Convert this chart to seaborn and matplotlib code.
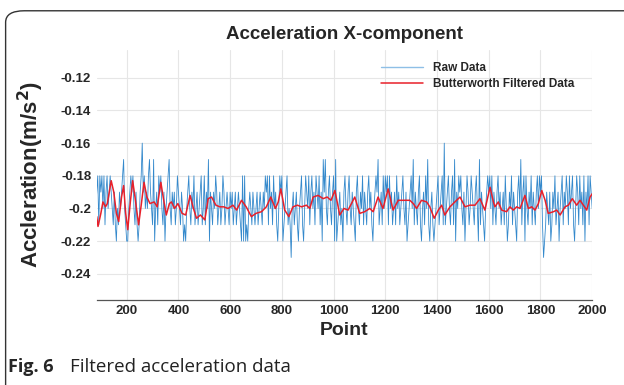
import numpy as np
import pandas as pd
import seaborn as sns
import matplotlib.pyplot as plt
from matplotlib.patches import FancyBboxPatch
from matplotlib.lines import Line2D

# raw samples, one every 4 points from 80 to 2000
# digit code: 6=-0.16 7=-0.17 8=-0.18 9=-0.19 0=-0.20 1=-0.21 2=-0.22 3=-0.23
raw_start, raw_step = 80, 4
raw_codes = [
    "0981898081980989019120190",
    "9870122098980191219869809",
    "0879017209189801920987019",
    "0910890190212098019081091",
    "0981081907290190891091089",
    "1090190910910901282821209",
    "0190109109019089818091809",
    "1208982109810130910912098",
    "1208908198091890819279701",
    "9801982721091029801980190",
    "1298019081901980912098971",
    "0918089818091091809109801",
    "9210980719019812091807120",
    "9121098109816109801981729",
    "0898019208910890198027190",
    "1209898081901980910918021",
    "9081901298071982801908190",
    "1980898132190192190810920",
    "9819089180981208918091829",
    "081890",
]
code_value = {"6": -0.16, "7": -0.17, "8": -0.18, "9": -0.19,
              "0": -0.20, "1": -0.21, "2": -0.22, "3": -0.23}

# filtered curve, read at its turning points
filt_x = [84, 89, 100, 108, 118, 125, 140, 150, 160, 169, 180, 188, 196, 204,
          214, 223, 232, 246, 256, 267, 278, 290, 306, 318, 332, 342, 353, 365,
          373, 385, 398, 414, 428, 445, 458, 470, 485, 502, 515, 528, 545, 560,
          575, 592, 611, 625, 644, 662, 682, 700, 721, 740, 757, 775, 786, 796,
          811, 827, 843, 860, 876, 895, 908, 921, 940, 960, 975, 990, 1005, 1024,
          1040, 1056, 1082, 1101, 1120, 1140, 1153, 1172, 1191, 1211, 1230, 1240,
          1250, 1276, 1295, 1308, 1321, 1340, 1360, 1372, 1389, 1405, 1418, 1430,
          1450, 1469, 1489, 1508, 1527, 1547, 1566, 1585, 1605, 1618, 1624, 1637,
          1650, 1669, 1682, 1695, 1708, 1721, 1740, 1753, 1766, 1779, 1792, 1805,
          1818, 1830, 1850, 1863, 1876, 1895, 1908, 1923, 1940, 1953, 1966, 1979,
          1992, 2000]
filt_y = [-0.205, -0.211, -0.203, -0.196, -0.199, -0.197, -0.183, -0.190, -0.203,
          -0.208, -0.193, -0.186, -0.203, -0.213, -0.196, -0.183, -0.193, -0.210,
          -0.198, -0.184, -0.193, -0.197, -0.196, -0.199, -0.184, -0.194, -0.204,
          -0.197, -0.196, -0.200, -0.197, -0.203, -0.204, -0.192, -0.200, -0.206,
          -0.204, -0.207, -0.194, -0.193, -0.198, -0.199, -0.199, -0.200, -0.198,
          -0.201, -0.195, -0.199, -0.205, -0.203, -0.202, -0.199, -0.193, -0.200,
          -0.196, -0.188, -0.201, -0.205, -0.199, -0.198, -0.199, -0.198, -0.200,
          -0.193, -0.192, -0.194, -0.193, -0.195, -0.189, -0.204, -0.200, -0.201,
          -0.193, -0.203, -0.202, -0.200, -0.202, -0.193, -0.200, -0.188, -0.201,
          -0.198, -0.195, -0.195, -0.195, -0.197, -0.200, -0.195, -0.196, -0.199,
          -0.206, -0.201, -0.198, -0.204, -0.199, -0.196, -0.193, -0.199, -0.198,
          -0.198, -0.194, -0.201, -0.187, -0.196, -0.199, -0.196, -0.201, -0.202,
          -0.199, -0.201, -0.199, -0.200, -0.192, -0.200, -0.199, -0.201, -0.197,
          -0.189, -0.195, -0.203, -0.202, -0.201, -0.204, -0.199, -0.198, -0.194,
          -0.198, -0.195, -0.198, -0.201, -0.193, -0.191]

x_ticks = [200, 400, 600, 800, 1000, 1200, 1400, 1600, 1800, 2000]
y_ticks = [-0.24, -0.22, -0.2, -0.18, -0.16, -0.14, -0.12]
y_tick_labels = ["-0.24", "-0.22", "-0.2", "-0.18", "-0.16", "-0.14", "-0.12"]

raw_y = [code_value[c] for c in "".join(raw_codes)]
raw_x = [raw_start + raw_step * i for i in range(len(raw_y))]
raw = pd.DataFrame({"Point": raw_x, "Acc": raw_y})
filt = pd.DataFrame({"Point": filt_x, "Acc": filt_y})

sns.set_theme(style="whitegrid")
plt.rcParams["font.family"] = ["Liberation Sans", "DejaVu Sans"]

raw_color = "#3489cc"
filt_color = "#e8202a"

fig = plt.figure(figsize=(6.24, 3.85), dpi=100)
ax = fig.add_axes([0.155, 0.221, 0.794, 0.649])

sns.lineplot(data=raw, x="Point", y="Acc", ax=ax, color=raw_color,
             linewidth=0.6, estimator=None)
sns.lineplot(data=filt, x="Point", y="Acc", ax=ax, color=filt_color,
             linewidth=1.1, estimator=None)

ax.set_xlim(84, 2000)
ax.set_ylim(-0.256, -0.103)
ax.set_xticks(x_ticks)
ax.set_yticks(y_ticks)
ax.set_yticklabels(y_tick_labels)
ax.set_facecolor("white")
ax.grid(True, color="#e6e6e6", linewidth=0.8)
for s in ["top", "right", "left"]:
    ax.spines[s].set_visible(False)
ax.spines["bottom"].set_color("#555555")
ax.spines["bottom"].set_linewidth(0.9)
ax.tick_params(axis="both", direction="in", length=3, color="#888888",
               labelsize=9.5, pad=4)
for lab in ax.get_xticklabels() + ax.get_yticklabels():
    lab.set_fontweight("bold")

ax.set_title("Acceleration X-component", fontsize=13.5, fontweight="bold", pad=8)
ax.set_xlabel("Point", fontsize=14, fontweight="bold", labelpad=3)
ax.set_ylabel("Accleration(m/s$^\\mathbf{2}$)", fontsize=16, fontweight="bold",
              labelpad=11)

handles = [Line2D([], [], color="#8ebfe6", linewidth=1.0),
           Line2D([], [], color=filt_color, linewidth=1.1)]
ax.legend(handles, ["Raw Data", "Butterworth Filtered Data"],
          loc="upper right", bbox_to_anchor=(0.985, 0.995), frameon=False,
          prop={"weight": "bold", "size": 8.5}, handlelength=3.6,
          labelspacing=0.35)

# caption frame and text
frame = FancyBboxPatch((0.009, -0.2), 1.2, 1.172,
                       boxstyle="round,pad=0,rounding_size=0.03",
                       transform=fig.transFigure, fill=False,
                       edgecolor="#333333", linewidth=1.0, clip_on=False)
fig.patches.append(frame)
fig.text(0.013, 0.047, "Fig. 6", fontsize=13, fontweight="bold",
         family=["Open Sans", "DejaVu Sans"], va="center")
fig.text(0.112, 0.047, "Filtered acceleration data", fontsize=13.5,
         family=["Open Sans", "DejaVu Sans"], va="center", color="#222222")

fig.savefig("out.png", dpi=100)
